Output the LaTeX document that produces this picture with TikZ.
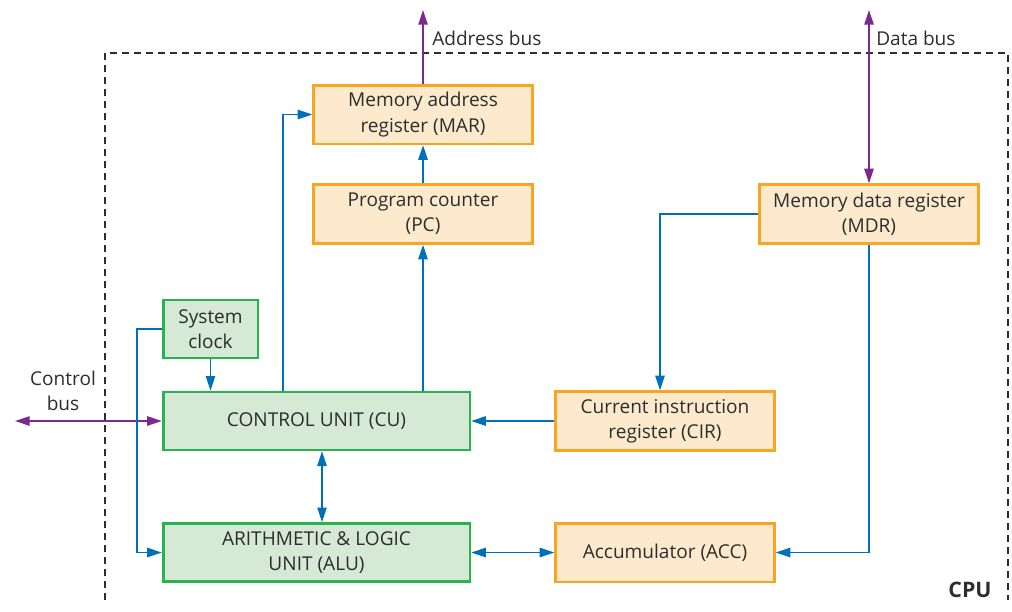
\documentclass[tikz,border=0pt]{standalone}
\usepackage{fontspec}
\setmainfont{Open Sans}
\usetikzlibrary{arrows.meta}

\definecolor{unitline}{RGB}{40,178,80}
\definecolor{unitfill}{RGB}{213,233,213}
\definecolor{regline}{RGB}{247,165,35}
\definecolor{regfill}{RGB}{253,234,204}
\definecolor{wire}{RGB}{0,112,186}
\definecolor{bus}{RGB}{125,40,145}
\definecolor{textgray}{RGB}{45,45,45}

\tikzset{
  unit/.style={draw=unitline, fill=unitfill, line width=2pt, text=textgray,
    align=center, inner sep=0pt},
  reg/.style={draw=regline, fill=regfill, line width=2pt, text=textgray,
    align=center, inner sep=0pt, minimum width=164pt, minimum height=44pt},
  wireline/.style={draw=wire, line width=1.2pt},
  busline/.style={draw=bus, line width=1.2pt},
  label/.style={text=textgray, inner sep=0pt}
}

\begin{document}
\begin{tikzpicture}[x=0.75pt, y=-0.75pt, font=\fontsize{14.3}{19}\selectfont,
    >={Triangle[length=11pt,width=7pt]}]
        \useasboundingbox (0,0) rectangle (1012,611);

        % limite du processeur
        \draw[textgray, line width=1pt, dash pattern=on 5pt off 4pt]
            (105,600) -- (105,53) -- (1008,53) -- (1008,600);
        \node[label, font=\fontsize{16}{19}\selectfont\bfseries] (cpu) at (970,590) {CPU};

        % registres
        \node[reg] (MAR) at (423,114.5) {Memory address\\register (MAR)};
        \node[reg] (PC) at (423,214) {Program counter\\(PC)};
        \node[reg] (MDR) at (869,214) {Memory data register\\(MDR)};
        \node[reg] (CIR) at (665,421) {Current instruction\\register (CIR)};
        \node[reg] (ACC) at (665,552.5) {Accumulator (ACC)};

        % unites
        \node[unit, minimum width=71pt, minimum height=43.5pt] (clock) at (210.5,329) {System\\clock};
        \node[unit, minimum width=230pt, minimum height=43.5pt] (CU) at (316.5,421) {CONTROL UNIT (CU)};
        \node[unit, minimum width=230pt, minimum height=43.5pt] (ALU) at (316.5,552.5) {ARITHMETIC \& LOGIC\\UNIT (ALU)};

        % bus externes
        \coordinate (addrEnd) at (423,10);
        \coordinate (dataEnd) at (869,10);
        \coordinate (ctrlEnd) at (15,421);
        \draw[busline, ->] (MAR.north) -- (addrEnd);
        \draw[busline, <->] (dataEnd) -- (MDR.north);
        \draw[busline, <->] (ctrlEnd) -- (CU.west);
        \node[label, anchor=west] (addrLbl) at (432,38) {Address bus};
        \node[label, anchor=west] (dataLbl) at (876,38) {Data bus};
        \node[label, align=center] (ctrlLbl) at (63,391) {Control\\bus};

        % liaisons internes
        \coordinate (marTurn) at (283,114.5);
        \coordinate (cirTurn) at (660,214);
        \coordinate (clkTurn) at (137,329);
        \draw[wireline, ->] (CU.north -| marTurn) -- (marTurn) -- (MAR.west);
        \draw[wireline, ->] (CU.north -| PC.south) -- (PC.south);
        \draw[wireline, ->] (PC.north) -- (MAR.south);
        \draw[wireline, ->] (clock.south) -- (clock.south |- CU.north);
        \draw[wireline, ->] (clock.west) -- (clkTurn) |- (ALU.west);
        \draw[wireline, <->] (CU.south -| 322,0) -- (ALU.north -| 322,0);
        \draw[wireline, ->] (CIR.west) -- (CU.east);
        \draw[wireline, ->] (MDR.west) -- (cirTurn) -- (CIR.north -| cirTurn);
        \draw[wireline, ->] (MDR.south) |- (ACC.east);
        \draw[wireline, <->] (ALU.east) -- (ACC.west);
    \end{tikzpicture}
\end{document}
